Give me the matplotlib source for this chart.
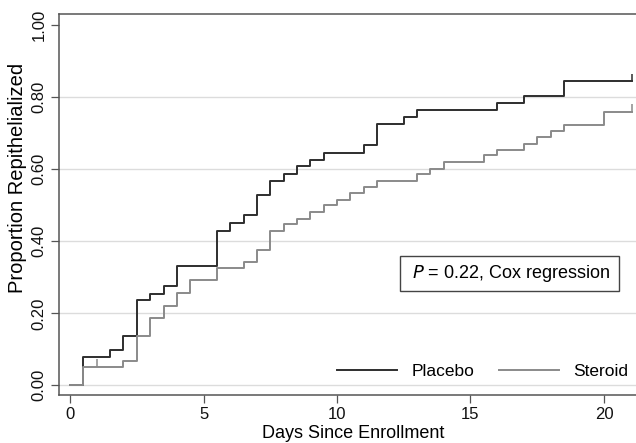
import numpy as np
import matplotlib.pyplot as plt

plt.rcParams['font.family'] = ['Liberation Sans', 'DejaVu Sans']

# Kaplan-Meier style step data
placebo_days = [0, 0.5, 1.5, 2.0, 2.5, 3.0, 3.5, 4.0, 5.5, 6.0, 6.5, 7.0, 7.5,
                8.0, 8.5, 9.0, 9.5, 11.0, 11.5, 12.5, 13.0, 16.0, 17.0, 18.5, 21.05]
placebo_prop = [0, 0.079, 0.098, 0.136, 0.236, 0.255, 0.275, 0.331, 0.430, 0.451,
                0.472, 0.530, 0.567, 0.588, 0.609, 0.627, 0.646, 0.667, 0.725,
                0.745, 0.764, 0.784, 0.803, 0.844, 0.844]

steroid_days = [0, 0.5, 2.0, 2.5, 3.0, 3.5, 4.0, 4.5, 5.5, 6.5, 7.0, 7.5, 8.0,
                8.5, 9.0, 9.5, 10.0, 10.5, 11.0, 11.5, 13.0, 13.5, 14.0, 15.5,
                16.0, 17.0, 17.5, 18.0, 18.5, 20.0, 21.05]
steroid_prop = [0, 0.051, 0.068, 0.136, 0.188, 0.221, 0.256, 0.292, 0.325, 0.343,
                0.377, 0.429, 0.447, 0.463, 0.481, 0.500, 0.516, 0.534, 0.551,
                0.567, 0.586, 0.602, 0.620, 0.639, 0.654, 0.671, 0.690, 0.706,
                0.724, 0.759, 0.759]

# censored observations (day, proportion at that time)
placebo_cens_day = [21.05]
placebo_cens_prop = [0.844]
steroid_cens_day = [1.0, 21.05]
steroid_cens_prop = [0.051, 0.759]

yticks = [0.0, 0.2, 0.4, 0.6, 0.8, 1.0]
xticks = [0, 5, 10, 15, 20]

dark = '#2e2e2e'
grey = '#8a8a8a'
cens_h = 0.022

fig = plt.figure(figsize=(6.36, 4.43), dpi=100)
ax = fig.add_axes([0.093, 0.109, 0.907, 0.859])

for y in yticks[:-1]:
    ax.axhline(y, color='#dcdcdc', lw=1.0, zorder=0)

ax.step(placebo_days, placebo_prop, where='post', color=dark, lw=1.4,
        label='Placebo')
ax.step(steroid_days, steroid_prop, where='post', color=grey, lw=1.4,
        label='Steroid')

ax.vlines(placebo_cens_day, placebo_cens_prop,
          np.array(placebo_cens_prop) + cens_h, color=dark, lw=1.1)
ax.vlines(steroid_cens_day, steroid_cens_prop,
          np.array(steroid_cens_prop) + cens_h, color=grey, lw=1.1)

ax.set_xlim(-0.41, 21.2)
ax.set_ylim(-0.026, 1.031)

ax.set_xticks(xticks)
ax.set_yticks(yticks)
ax.set_yticklabels([f'{v:.2f}' for v in yticks], rotation=90, va='center')
ax.tick_params(axis='both', length=6, width=0.9, color='#555555',
               labelsize=12, labelcolor='#111111', pad=3)

for side in ['left', 'bottom', 'top']:
    ax.spines[side].set_color('#555555')
    ax.spines[side].set_linewidth(1.1)
ax.spines['right'].set_visible(False)

ax.set_xlabel('Days Since Enrollment', fontsize=13, labelpad=0)
ax.set_ylabel('Proportion Repithelialized', fontsize=14.5)
ax.xaxis.set_label_coords(0.51, -0.08)
ax.yaxis.set_label_coords(-0.056, 0.57)

ax.text(0.78, 0.319, r' $P$ = 0.22, Cox regression ', transform=ax.transAxes,
        ha='center', va='center', fontsize=13,
        bbox=dict(boxstyle='square,pad=0.4', fc='white', ec='#444444', lw=1.0))

ax.legend(loc='lower right', bbox_to_anchor=(1.0, 0.02), ncol=2,
          frameon=False, fontsize=12.5, handlelength=3.5, handletextpad=0.8,
          columnspacing=1.4, borderaxespad=0.05)

plt.savefig('out.png', dpi=100)
